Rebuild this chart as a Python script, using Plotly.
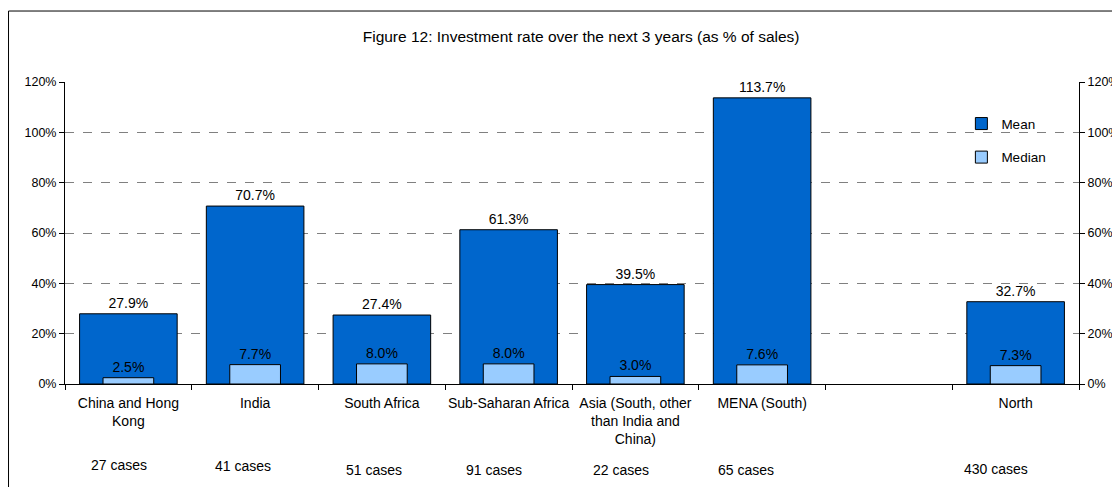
import plotly.graph_objects as go

categories = ["China and Hong<br>Kong", "India", "South Africa", "Sub-Saharan Africa",
              "Asia (South, other<br>than India and<br>China)", "MENA (South)", " ", "North"]
mean_vals = [27.9, 70.7, 27.4, 61.3, 39.5, 113.7, None, 32.7]
median_vals = [2.5, 7.7, 8.0, 8.0, 3.0, 7.6, None, 7.3]
cases = ["27 cases", "41 cases", "51 cases", "91 cases", "22 cases", "65 cases", "", "430 cases"]
tick_vals = [0, 20, 40, 60, 80, 100, 120]
tick_text = [f"{v}%" for v in tick_vals]
title = "Figure 12: Investment rate over the next 3 years (as % of sales)"

# layout-only nudges of the "cases" captions (pixels), as placed in the original
case_dx = [-9, -12, -8, -15, -14, -16, 0, -20]
case_dy = [4, 3, -1, -1, -1, -1, 0, 0]

FONT = "Liberation Sans, Arial, sans-serif"

def fmt(v):
    return "" if v is None else f"{v:.1f}%"

fig = go.Figure()
fig.add_trace(go.Bar(
    x=categories, y=mean_vals, name="Mean", width=0.77,
    marker=dict(color="#0066CC", line=dict(color="black", width=1)),
    text=[fmt(v) for v in mean_vals], textposition="outside",
    textfont=dict(family=FONT, size=14, color="black"), cliponaxis=False,
    legendgroup="a",
))
fig.add_trace(go.Bar(
    x=categories, y=median_vals, name="Median", width=0.40, yaxis="y2",
    marker=dict(color="#99CCFF", line=dict(color="black", width=1)),
    text=[fmt(v) for v in median_vals], textposition="outside",
    textfont=dict(family=FONT, size=14, color="black"), cliponaxis=False,
    legendgroup="b",
))

for i, c in enumerate(cases):
    if c:
        fig.add_annotation(x=i, y=-0.281, xref="x", yref="paper", text=c, showarrow=False,
                           xshift=case_dx[i], yshift=case_dy[i], yanchor="middle",
                           font=dict(family=FONT, size=14, color="black"))

fig.add_shape(type="rect", xref="paper", yref="paper", x0=-0.0557, x1=1.06, y0=-0.4, y1=1.235,
              line=dict(color="black", width=1), fillcolor="rgba(0,0,0,0)")

axis_y = dict(range=[0, 120], tickmode="array", tickvals=tick_vals, ticktext=tick_text,
              showline=True, linecolor="black", linewidth=1, ticks="outside", ticklen=5,
              tickcolor="black", tickfont=dict(family=FONT, size=12.5, color="black"),
              zeroline=False, fixedrange=True, automargin=False)

fig.update_layout(
    width=1112, height=479,
    margin=dict(l=57, r=41, t=74, b=103, autoexpand=False),
    paper_bgcolor="white", plot_bgcolor="white",
    barmode="overlay", bargap=0.2,
    font=dict(family=FONT, size=14, color="black"),
    title=dict(text=title, x=0.509, xref="paper", xanchor="center", y=1 - 29 / 479,
               yref="container", yanchor="middle", font=dict(family=FONT, size=15.5, color="black")),
    xaxis=dict(showline=True, linecolor="black", linewidth=1, ticks="outside", ticklen=5,
               tickcolor="black", tickson="boundaries", showgrid=False, tickangle=0,
               automargin=False, fixedrange=True, ticklabelstandoff=6,
               tickfont=dict(family=FONT, size=14, color="black")),
    yaxis=dict(**axis_y, showgrid=True, gridcolor="#808080", griddash="dash", gridwidth=1),
    yaxis2=dict(**axis_y, overlaying="y", side="right", anchor="x", showgrid=False),
    legend=dict(x=0.884, y=0.913, xanchor="left", yanchor="top", bgcolor="rgba(0,0,0,0)",
                traceorder="grouped", tracegroupgap=13, itemwidth=30,
                font=dict(family=FONT, size=13.5, color="black")),
    showlegend=True,
)

fig.write_html("out.html")
